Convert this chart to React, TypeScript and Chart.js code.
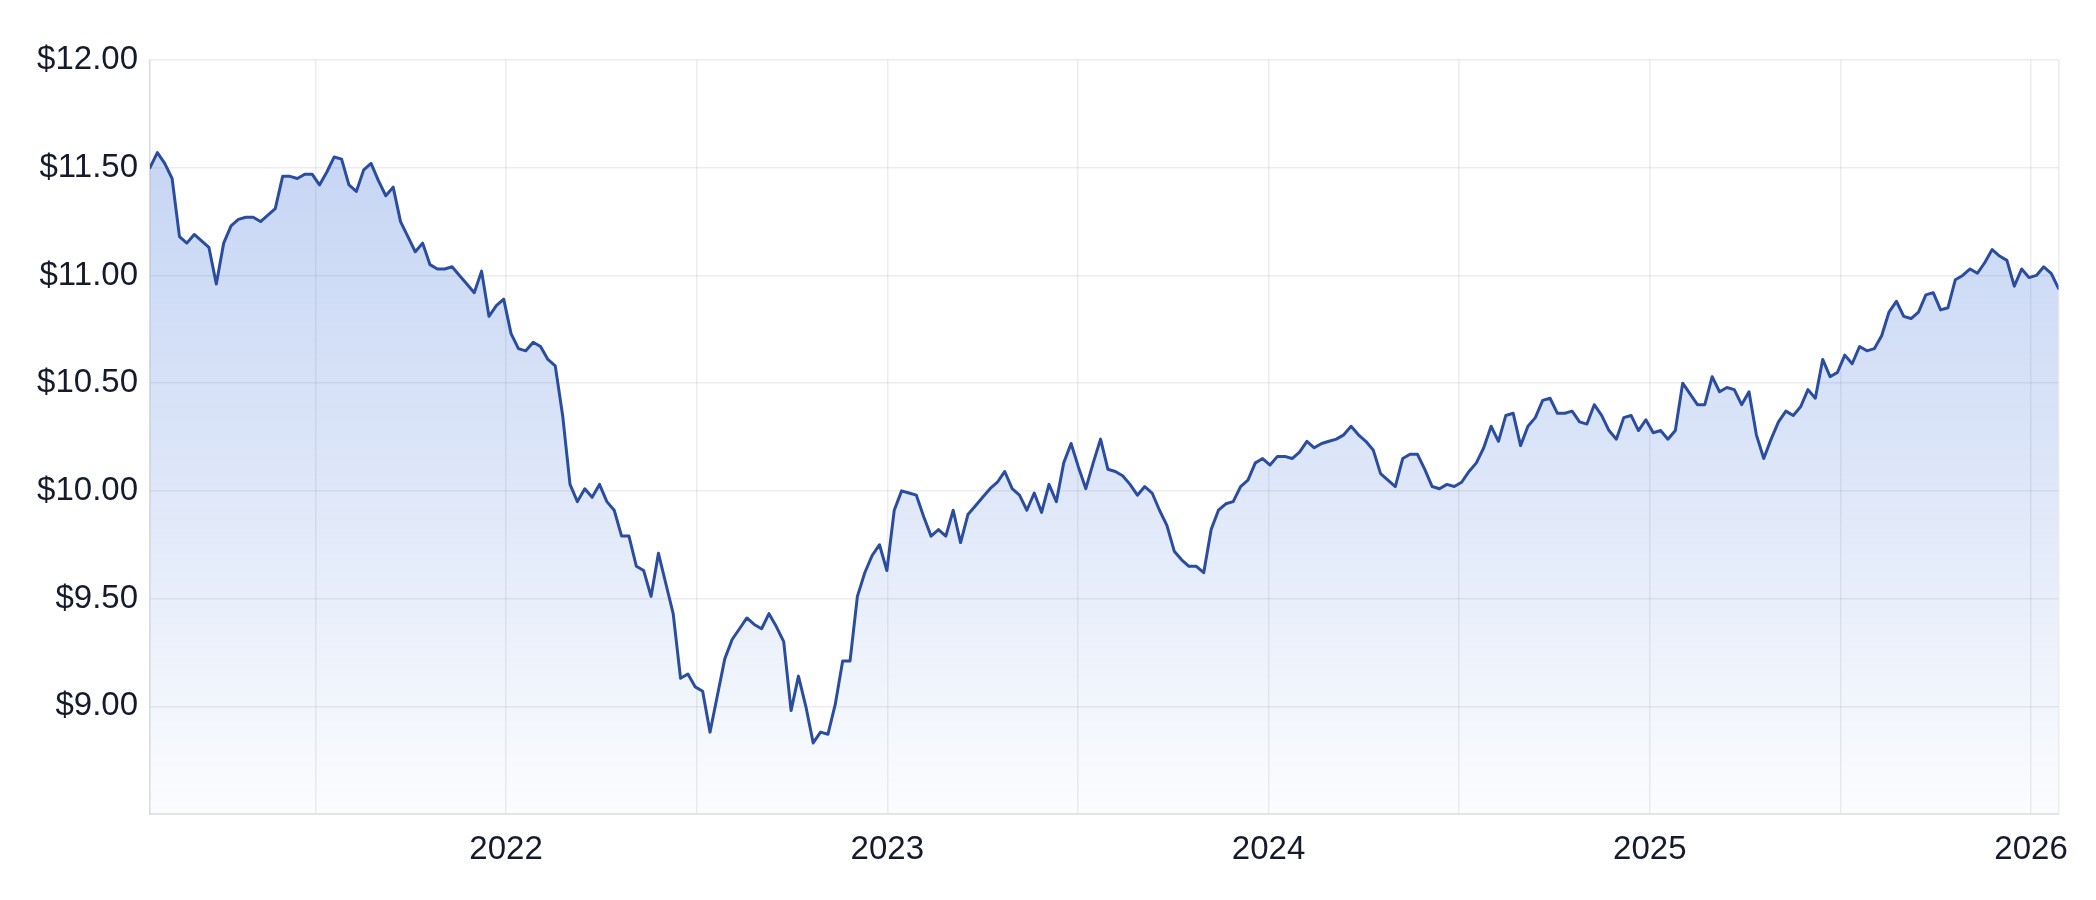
import React, { useEffect, useRef } from 'react';
import { Chart, registerables } from 'chart.js';

Chart.register(...registerables);

// Weekly closing prices (USD)
const prices2021 = [
  11.50, 11.57, 11.52, 11.45, 11.18, 11.15, 11.19, 11.16, 11.13, 10.96,
  11.15, 11.23, 11.26, 11.27, 11.27, 11.25, 11.28, 11.31, 11.46, 11.46,
  11.45, 11.47, 11.47, 11.42, 11.48, 11.55, 11.54, 11.42, 11.39, 11.49,
  11.52, 11.44, 11.37, 11.41, 11.25, 11.18, 11.11, 11.15, 11.05, 11.03,
  11.03, 11.04, 11.00, 10.96, 10.92, 11.02, 10.81, 10.86,
];
const prices2022 = [
  10.89, 10.73, 10.66, 10.65, 10.69, 10.67, 10.61, 10.58, 10.35, 10.03,
  9.95, 10.01, 9.97, 10.03, 9.95, 9.91, 9.79, 9.79, 9.65, 9.63,
  9.51, 9.71, 9.57, 9.43, 9.13, 9.15, 9.09, 9.07, 8.88, 9.05,
  9.22, 9.31, 9.36, 9.41, 9.38, 9.36, 9.43, 9.37, 9.30, 8.98,
  9.14, 9.00, 8.83, 8.88, 8.87, 9.01, 9.21, 9.21, 9.51, 9.62,
  9.70, 9.75,
];
const prices2023 = [
  9.63, 9.91, 10.00, 9.99, 9.98, 9.88, 9.79, 9.82, 9.79, 9.91,
  9.76, 9.89, 9.93, 9.97, 10.01, 10.04, 10.09, 10.01, 9.98, 9.91,
  9.99, 9.90, 10.03, 9.95, 10.13, 10.22, 10.11, 10.01, 10.13, 10.24,
  10.10, 10.09, 10.07, 10.03, 9.98, 10.02, 9.99, 9.91, 9.84, 9.72,
  9.68, 9.65, 9.65, 9.62, 9.82, 9.91, 9.94, 9.95, 10.02, 10.05,
  10.13,
];
const prices2024 = [
  10.15, 10.12, 10.16, 10.16, 10.15, 10.18, 10.23, 10.20, 10.22, 10.23,
  10.24, 10.26, 10.30, 10.26, 10.23, 10.19, 10.08, 10.05, 10.02, 10.15,
  10.17, 10.17, 10.10, 10.02, 10.01, 10.03, 10.02, 10.04, 10.09, 10.13,
  10.20, 10.30, 10.23, 10.35, 10.36, 10.21, 10.30, 10.34, 10.42, 10.43,
  10.36, 10.36, 10.37, 10.32, 10.31, 10.40, 10.35, 10.28, 10.24, 10.34,
  10.35, 10.28, 10.33,
];
const prices2025 = [
  10.27, 10.28, 10.24, 10.28, 10.50, 10.45, 10.40, 10.40, 10.53, 10.46,
  10.48, 10.47, 10.40, 10.46, 10.26, 10.15, 10.24, 10.32, 10.37, 10.35,
  10.39, 10.47, 10.43, 10.61, 10.53, 10.55, 10.63, 10.59, 10.67, 10.65,
  10.66, 10.72, 10.83, 10.88, 10.81, 10.80, 10.83, 10.91, 10.92, 10.84,
  10.85, 10.98, 11.00, 11.03, 11.01, 11.06, 11.12, 11.09, 11.07, 10.95,
  11.03,
];
const prices2026 = [10.99, 11.00, 11.04, 11.01, 10.94];

// Time span (decimal years): 25 Jan 2021 -> 27 Jan 2026
const START_YEAR = 2021.066;
const END_YEAR = 2026.072;

// Axis ticks
const yTickValues = [9.0, 9.5, 10.0, 10.5, 11.0, 11.5, 12.0];
const xGridYears = [2021.5, 2022, 2022.5, 2023, 2023.5, 2024, 2024.5, 2025, 2025.5, 2026];
const yearLabels = ['2022', '2023', '2024', '2025', '2026'];

const Y_MIN = 8.5;
const Y_MAX = 12.0;

const FONT_FAMILY = '"Liberation Sans", Arial, Helvetica, sans-serif';
const TEXT_COLOR = '#151a2c';
const LINE_COLOR = 'rgb(43, 77, 160)';
const GRID_COLOR = 'rgba(0, 0, 0, 0.07)';

export default function App() {
  const canvasRef = useRef<HTMLCanvasElement | null>(null);

  useEffect(() => {
    const canvas = canvasRef.current;
    if (!canvas) return;

    const prices = [
      ...prices2021,
      ...prices2022,
      ...prices2023,
      ...prices2024,
      ...prices2025,
      ...prices2026,
    ];
    const n = prices.length;
    const step = (END_YEAR - START_YEAR) / (n - 1);
    const points = prices.map((p, i) => ({ x: START_YEAR + i * step, y: p }));

    const chart = new Chart(canvas, {
      type: 'line',
      data: {
        datasets: [
          {
            data: points,
            borderColor: LINE_COLOR,
            borderWidth: 3,
            borderJoinStyle: 'round',
            borderCapStyle: 'round',
            pointRadius: 0,
            pointHoverRadius: 0,
            tension: 0,
            fill: 'start',
            backgroundColor: (ctx: any) => {
              const c = ctx.chart;
              const area = c.chartArea;
              if (!area) return 'rgba(60, 110, 215, 0.2)';
              const g = c.ctx.createLinearGradient(0, area.top, 0, area.bottom);
              g.addColorStop(0, 'rgba(60, 112, 218, 0.32)');
              g.addColorStop(0.5, 'rgba(60, 112, 218, 0.19)');
              g.addColorStop(1, 'rgba(60, 112, 218, 0.02)');
              return g;
            },
          },
        ],
      },
      options: {
        animation: false,
        responsive: false,
        devicePixelRatio: 1,
        layout: { padding: { left: 0, right: 37.5, top: 60, bottom: 0 } },
        plugins: {
          legend: { display: false },
          tooltip: { enabled: false },
        },
        scales: {
          x: {
            type: 'linear',
            min: START_YEAR,
            max: END_YEAR,
            afterBuildTicks: (scale: any) => {
              scale.ticks = [START_YEAR, ...xGridYears, END_YEAR].map((v) => ({ value: v }));
            },
            afterFit: (scale: any) => {
              scale.height = 86;
            },
            grid: { color: GRID_COLOR, lineWidth: 1.5, drawTicks: false },
            border: { display: true, color: 'rgba(0, 0, 0, 0.1)', width: 2 },
            ticks: {
              autoSkip: false,
              maxRotation: 0,
              padding: 16,
              color: TEXT_COLOR,
              font: { family: FONT_FAMILY, size: 33 },
              callback: (value: any) => {
                const v = Number(value);
                const idx = yearLabels.indexOf(String(Math.round(v)));
                return Math.abs(v - Math.round(v)) < 1e-6 && idx >= 0 ? yearLabels[idx] : '';
              },
            },
          },
          y: {
            type: 'linear',
            min: Y_MIN,
            max: Y_MAX,
            afterBuildTicks: (scale: any) => {
              scale.ticks = yTickValues.map((v) => ({ value: v }));
            },
            afterFit: (scale: any) => {
              scale.width = 150;
            },
            grid: { color: GRID_COLOR, lineWidth: 1.5, drawTicks: false },
            border: { display: true, color: 'rgba(0, 0, 0, 0.08)', width: 1.5 },
            ticks: {
              padding: 12,
              color: TEXT_COLOR,
              font: { family: FONT_FAMILY, size: 33 },
              callback: (value: any) => '$' + Number(value).toFixed(2),
            },
          },
        },
      },
    });

    return () => {
      chart.destroy();
    };
  }, []);

  return (
    <div
      style={{
        position: 'fixed',
        left: 0,
        top: 0,
        width: 2096,
        height: 900,
        background: '#ffffff',
      }}
    >
      <canvas ref={canvasRef} width={2096} height={900} style={{ display: 'block' }} />
    </div>
  );
}
